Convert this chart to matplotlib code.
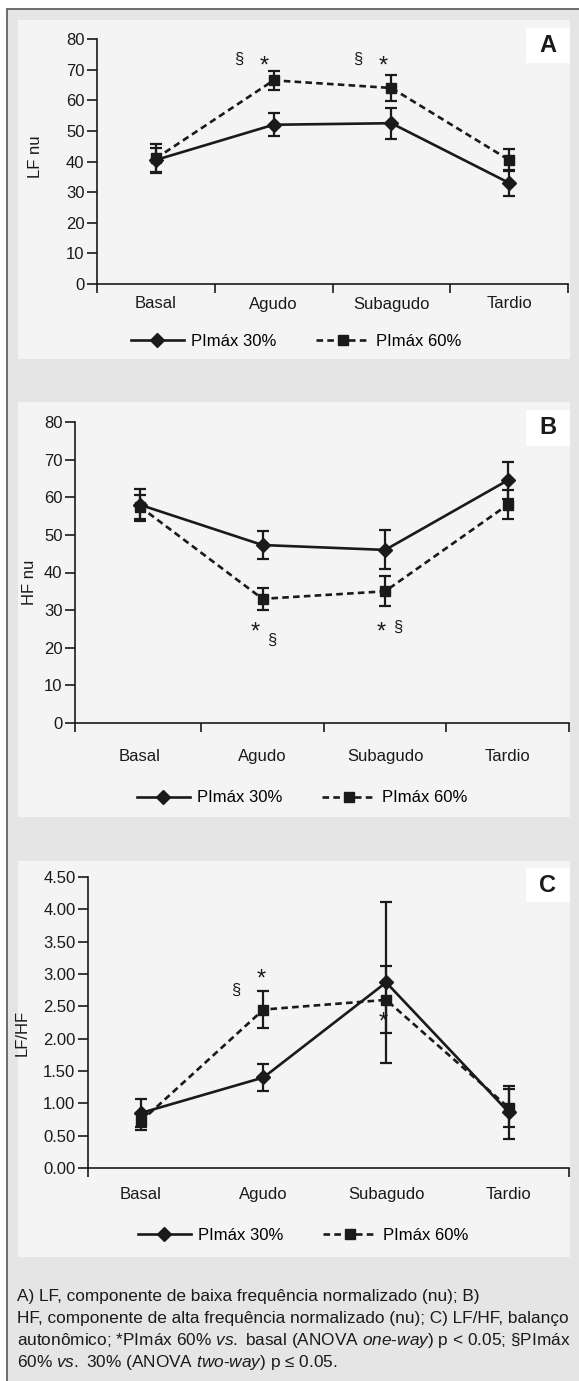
import matplotlib
matplotlib.use('Agg')
import matplotlib.pyplot as plt
from matplotlib.patches import Rectangle
from matplotlib.lines import Line2D

plt.rcParams['font.family'] = ['Liberation Sans', 'DejaVu Sans']
plt.rcParams['mathtext.fontset'] = 'custom'
plt.rcParams['mathtext.rm'] = 'Liberation Sans'
plt.rcParams['mathtext.it'] = 'Liberation Sans:italic'

# dados
cats = ['Basal', 'Agudo', 'Subagudo', 'Tardio']
series_names = ['PImáx 30%', 'PImáx 60%']

lf30 = [40.5, 52.0, 52.5, 33.0]
lf30_err = [4.0, 3.7, 5.0, 4.2]
lf60 = [41.0, 66.5, 64.0, 40.5]
lf60_err = [4.8, 3.0, 4.3, 3.7]

hf30 = [58.0, 47.3, 46.0, 64.5]
hf30_err = [4.2, 3.8, 5.2, 5.0]
hf60 = [57.5, 33.0, 35.0, 58.0]
hf60_err = [3.2, 3.0, 4.0, 3.8]

lfhf30 = [0.85, 1.40, 2.87, 0.86]
lfhf30_err = [0.22, 0.21, 1.25, 0.41]
lfhf60 = [0.72, 2.45, 2.60, 0.93]
lfhf60_err = [0.13, 0.29, 0.52, 0.29]

W, H = 579, 1381
INK = '#1a1a1a'
LW = 1.9
DASH = (0, (2.5, 1.6))


def fx(x):
    return x / W


def fy(y):
    return 1 - y / H


def box(x0, y0, x1, y1):
    return [fx(x0), fy(y1), (x1 - x0) / W, (y1 - y0) / H]


def draw_panel(ax, y30, e30, y60, e60, ylim, yticks, ylabels, xlim, bounds, pad):
    x = list(range(len(cats)))
    ax.errorbar(x, y30, yerr=e30, color=INK, lw=LW, ls='-', marker='D', ms=7.5,
                capsize=4.3, elinewidth=1.6, capthick=1.6, zorder=3)
    ax.errorbar(x, y60, yerr=e60, color=INK, lw=LW, ls=DASH, marker='s', ms=7.5,
                capsize=4.3, elinewidth=1.6, capthick=1.6, zorder=3)
    ax.set_xlim(xlim)
    ax.set_ylim(ylim)
    ax.set_facecolor('none')
    for s in ['top', 'right']:
        ax.spines[s].set_visible(False)
    for s in ['left', 'bottom']:
        ax.spines[s].set_linewidth(1.2)
        ax.spines[s].set_color(INK)
    ax.set_yticks(yticks)
    ax.set_yticklabels(ylabels)
    ax.set_xticks(bounds)
    ax.set_xticklabels([''] * len(bounds))
    ax.set_xticks(x, minor=True)
    ax.set_xticklabels(cats, minor=True)
    ax.tick_params(axis='y', direction='out', length=7, width=1.2, color=INK,
                   labelsize=12, labelcolor=INK, pad=2)
    ax.tick_params(axis='x', which='major', direction='out', length=6.5, width=1.2, color=INK)
    ax.tick_params(axis='x', which='minor', length=0, labelsize=12, labelcolor=INK, pad=pad)


def add_legend(ax, cx, cy):
    h1 = Line2D([], [], color=INK, lw=LW, marker='D', ms=7.5)
    h2 = Line2D([], [], color=INK, lw=LW, ls=DASH, marker='s', ms=7.5)
    ax.legend([h1, h2], series_names, loc='center', ncol=2, frameon=False,
              bbox_to_anchor=(fx(cx), fy(cy)), bbox_transform=fig.transFigure,
              fontsize=12, handlelength=3.2, handletextpad=0.4, columnspacing=2.4)


fig = plt.figure(figsize=(W / 100, H / 100), dpi=100)
fig.patch.set_facecolor('white')

# moldura externa e fundos dos paineis
fig.add_artist(Rectangle((fx(7), fy(1420)), 640 / W, 1411 / H, transform=fig.transFigure,
                         facecolor='#e5e5e5', edgecolor='#555555', lw=1.2, zorder=0))
panels = [(20, 359), (402, 817), (861, 1257)]
for y0, y1 in panels:
    fig.add_artist(Rectangle((fx(18), fy(y1)), 552 / W, (y1 - y0) / H, transform=fig.transFigure,
                             facecolor='#f4f4f4', edgecolor='none', zorder=0))

letters = [('A', 28, 63), ('B', 410, 446), ('C', 868, 902)]
for letter, y0, y1 in letters:
    fig.add_artist(Rectangle((fx(526), fy(y1)), 44 / W, (y1 - y0) / H, transform=fig.transFigure,
                             facecolor='white', edgecolor='none', zorder=0))
    fig.text(fx(548), fy((y0 + y1) / 2), letter, fontsize=17, fontweight='bold',
             ha='center', va='center', color=INK)

# Painel A
axA = fig.add_axes(box(97, 39, 568, 284))
draw_panel(axA, lf30, lf30_err, lf60, lf60_err, (0, 80), range(0, 81, 10),
           [str(v) for v in range(0, 81, 10)], (-0.5, 3.5), [-0.5, 0.5, 1.5, 2.5, 3.5], 9)
fig.text(fx(35), fy(157), 'LF nu', rotation=90, fontsize=12, ha='center', va='center', color=INK)
axA.text(0.70, 73.5, '§', fontsize=12, ha='center', va='center', color=INK)
axA.text(0.92, 71.0, '*', fontsize=17, ha='center', va='center', color=INK)
axA.text(1.71, 73.5, '§', fontsize=12, ha='center', va='center', color=INK)
axA.text(1.93, 71.0, '*', fontsize=17, ha='center', va='center', color=INK)
add_legend(axA, 296, 341)

# Painel B
axB = fig.add_axes(box(75, 422, 569, 723))
draw_panel(axB, hf30, hf30_err, hf60, hf60_err, (0, 80), range(0, 81, 10),
           [str(v) for v in range(0, 81, 10)], (-0.53, 3.5), [-0.53, 0.5, 1.5, 2.5, 3.5], 19)
fig.text(fx(30), fy(582), 'HF nu', rotation=90, fontsize=12, ha='center', va='center', color=INK)
axB.text(0.94, 24.0, '*', fontsize=17, ha='center', va='center', color=INK)
axB.text(1.07, 22.0, '§', fontsize=12, ha='center', va='center', color=INK)
axB.text(1.97, 24.0, '*', fontsize=17, ha='center', va='center', color=INK)
axB.text(2.10, 25.3, '§', fontsize=12, ha='center', va='center', color=INK)
add_legend(axB, 302, 798)

# Painel C
axC = fig.add_axes(box(88, 877, 569, 1168))
ticksC = [i * 0.5 for i in range(10)]
draw_panel(axC, lfhf30, lfhf30_err, lfhf60, lfhf60_err, (0, 4.5), ticksC,
           ['%.2f' % v for v in ticksC], (-0.43, 3.49), [-0.43, 3.49], 14)
fig.text(fx(22), fy(1033), 'LF/HF', rotation=90, fontsize=12, ha='center', va='center', color=INK)
axC.text(0.77, 2.75, '§', fontsize=12, ha='center', va='center', color=INK)
axC.text(0.98, 2.92, '*', fontsize=17, ha='center', va='center', color=INK)
axC.text(1.98, 2.25, '*', fontsize=17, ha='center', va='center', color=INK)
add_legend(axC, 303, 1235)

# legenda da figura
caption = [
    'A) LF, componente de baixa frequência normalizado (nu); B)',
    'HF, componente de alta frequência normalizado (nu); C) LF/HF, balanço',
    'autonômico; *PImáx 60% $\\it{vs.}$ basal (ANOVA $\\it{one}$-$\\it{way}$) p < 0.05; §PImáx',
    '60% $\\it{vs.}$ 30% (ANOVA $\\it{two}$-$\\it{way}$) p ≤ 0.05.',
]
caption_y = [1297, 1319, 1341, 1362]
for line, y in zip(caption, caption_y):
    fig.text(fx(17), fy(y), line, fontsize=12.4, ha='left', va='center', color=INK)

fig.savefig('out.png', dpi=100)
